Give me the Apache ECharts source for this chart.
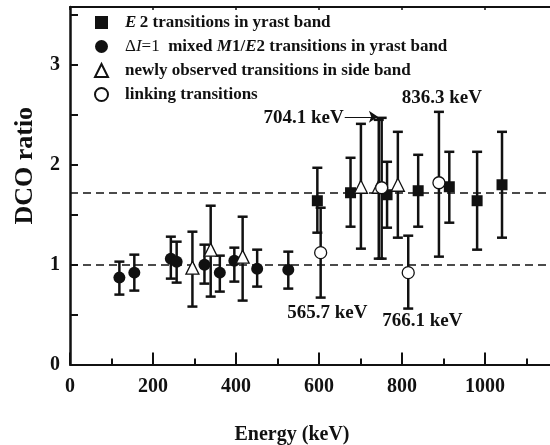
<!DOCTYPE html>
<html>
<head>
<meta charset="utf-8">
<script src="https://cdn.jsdelivr.net/npm/echarts@6/dist/echarts.min.js"></script>
<style>
html, body { margin: 0; padding: 0; background: #fff; }
#chart { width: 550px; height: 445px; }
</style>
</head>
<body>
<div id="chart"></div>
<script>
// E2 transitions in yrast band (filled squares)
var e2Energy = [596, 676, 764, 839, 914, 981, 1041];
var e2Ratio  = [1.64, 1.72, 1.70, 1.74, 1.78, 1.64, 1.80];
var e2Low    = [1.32, 1.38, 1.37, 1.38, 1.42, 1.15, 1.27];
var e2High   = [1.97, 2.07, 2.03, 2.10, 2.13, 2.13, 2.33];

// dI=1 mixed M1/E2 transitions in yrast band (filled circles)
var mixEnergy = [119, 155, 243, 257, 324, 361, 396, 451, 526];
var mixRatio  = [0.87, 0.92, 1.06, 1.03, 1.00, 0.92, 1.04, 0.96, 0.95];
var mixLow    = [0.70, 0.74, 0.86, 0.82, 0.81, 0.73, 0.83, 0.78, 0.76];
var mixHigh   = [1.03, 1.10, 1.28, 1.23, 1.20, 1.09, 1.17, 1.15, 1.13];

// newly observed transitions in side band (open triangles)
var sideEnergy = [295, 339, 416, 701, 744, 790];
var sideRatio  = [0.97, 1.15, 1.08, 1.78, 1.78, 1.80];
var sideLow    = [0.58, 0.68, 0.64, 1.16, 1.06, 1.27];
var sideHigh   = [1.33, 1.59, 1.48, 2.41, 2.45, 2.33];

// linking transitions (open circles)
var linkEnergy = [604, 751, 815, 889];
var linkRatio  = [1.12, 1.77, 0.92, 1.82];
var linkLow    = [0.67, 1.06, 0.56, 1.08];
var linkHigh   = [1.57, 2.47, 1.29, 2.53];

// dashed reference levels
var refLevels = [1.0, 1.72];

// energy labels [x, y, text]
var notes = [
    [563, 2.47, '704.1 keV'],
    [896, 2.67, '836.3 keV'],
    [620, 0.51, '565.7 keV'],
    [849, 0.43, '766.1 keV']
];
// arrow from the 704.1 keV label
var arrowFrom = [662, 2.48];
var arrowTo = [742, 2.48];

var names = [
    'E2 transitions in yrast band',
    'dI=1 mixed M1/E2 transitions in yrast band',
    'newly observed transitions in side band',
    'linking transitions'
];

var FONT = 'Liberation Serif';
var INK = '#111';

function zipPoints(xs, ys) {
    return xs.map(function (x, i) { return [x, ys[i]]; });
}
function zipBars(xs, lo, hi) {
    return xs.map(function (x, i) { return [x, lo[i], hi[i]]; });
}

function errorSeries(xs, lo, hi) {
    return {
        type: 'custom',
        silent: true,
        z: 2,
        data: zipBars(xs, lo, hi),
        renderItem: function (params, api) {
            var x = api.value(0);
            var top = api.coord([x, api.value(2)]);
            var bot = api.coord([x, api.value(1)]);
            var cap = 5;
            var style = { stroke: INK, lineWidth: 2.5 };
            return {
                type: 'group',
                children: [
                    { type: 'line', shape: { x1: top[0], y1: top[1], x2: bot[0], y2: bot[1] }, style: style },
                    { type: 'line', shape: { x1: top[0] - cap, y1: top[1], x2: top[0] + cap, y2: top[1] }, style: style },
                    { type: 'line', shape: { x1: bot[0] - cap, y1: bot[1], x2: bot[0] + cap, y2: bot[1] }, style: style }
                ]
            };
        },
        encode: { x: 0, y: [1, 2] }
    };
}

var chart = echarts.init(document.getElementById('chart'));

var option = {
    backgroundColor: '#fff',
    animation: false,
    grid: { left: 70, top: 7, width: 498, bottom: 80.5, outerBoundsMode: 'none', containLabel: false },
    legend: {
        data: names,
        orient: 'vertical',
        left: 89,
        top: 9,
        itemWidth: 13,
        itemHeight: 13,
        itemGap: 7,
        selectedMode: false,
        textStyle: {
            fontFamily: FONT,
            fontSize: 17,
            fontWeight: 'bold',
            color: INK,
            padding: [0, 0, 0, 12],
            rich: {
                n: { fontFamily: FONT, fontSize: 17, fontWeight: 'bold', color: INK },
                i: { fontFamily: FONT, fontSize: 17, fontWeight: 'bold', fontStyle: 'italic', color: INK },
                r: { fontFamily: FONT, fontSize: 17, fontWeight: 'normal', color: INK },
                ri: { fontFamily: FONT, fontSize: 17, fontWeight: 'normal', fontStyle: 'italic', color: INK }
            }
        },
        formatter: function (name) {
            if (name === names[0]) return '{i|E}{n|\u20092 transitions in yrast band}';
            if (name === names[1]) return '{r|\u0394}{ri|I}{r|=1}{n|  mixed }{i|M}{n|1/}{i|E}{n|2 transitions in yrast band}';
            if (name === names[2]) return '{n|newly observed transitions in side band}';
            return '{n|linking transitions}';
        }
    },
    xAxis: [{
        type: 'value',
        min: 0,
        max: 1200,
        interval: 200,
        axisLine: { lineStyle: { color: INK, width: 2 } },
        axisTick: { inside: true, length: 12, lineStyle: { color: INK, width: 2 } },
        minorTick: { show: true, splitNumber: 2, length: 6, lineStyle: { color: INK, width: 2 } },
        splitLine: { show: false },
        axisLabel: {
            fontFamily: FONT, fontSize: 20, fontWeight: 'bold', color: INK, margin: 12,
            showMaxLabel: false,
            formatter: function (v) { return String(v); }
        },
        name: 'Energy (keV)',
        nameLocation: 'middle',
        nameGap: 60,
        nameTextStyle: { fontFamily: FONT, fontSize: 20, fontWeight: 'bold', color: INK, padding: [0, 54, 0, 0] }
    }, {
        type: 'value',
        position: 'top',
        min: 0,
        max: 1200,
        interval: 200,
        axisLine: { lineStyle: { color: INK, width: 2 } },
        axisTick: { inside: true, length: 3, lineStyle: { color: INK, width: 1.5 } },
        axisLabel: { show: false },
        splitLine: { show: false }
    }],
    yAxis: {
        type: 'value',
        min: 0,
        max: 3.58,
        interval: 0.5,
        axisLine: { lineStyle: { color: INK, width: 2.5 } },
        axisTick: { inside: true, length: 8, lineStyle: { color: INK, width: 2 } },
        splitLine: { show: false },
        axisLabel: {
            fontFamily: FONT, fontSize: 20, fontWeight: 'bold', color: INK, margin: 10,
            showMaxLabel: false,
            formatter: function (v) { return v % 1 === 0 ? String(v) : ''; }
        },
        name: 'DCO ratio',
        nameLocation: 'middle',
        nameGap: 32,
        nameTextStyle: { fontFamily: FONT, fontSize: 26, fontWeight: 'bold', color: INK, padding: [0, 0, 0, 40] }
    },
    series: [
        errorSeries(mixEnergy, mixLow, mixHigh),
        errorSeries(e2Energy, e2Low, e2High),
        errorSeries(sideEnergy, sideLow, sideHigh),
        errorSeries(linkEnergy, linkLow, linkHigh),
        {
            name: names[0],
            type: 'scatter',
            z: 5,
            symbol: 'rect',
            symbolSize: 11,
            itemStyle: { color: INK, opacity: 1 },
            data: zipPoints(e2Energy, e2Ratio)
        },
        {
            name: names[1],
            type: 'scatter',
            z: 5,
            symbol: 'circle',
            symbolSize: 12,
            itemStyle: { color: INK, opacity: 1 },
            data: zipPoints(mixEnergy, mixRatio)
        },
        {
            name: names[2],
            type: 'scatter',
            z: 6,
            symbol: 'triangle',
            symbolSize: 13,
            itemStyle: { color: '#fff', borderColor: INK, borderWidth: 1.3, opacity: 1 },
            data: zipPoints(sideEnergy, sideRatio)
        },
        {
            name: names[3],
            type: 'scatter',
            z: 7,
            symbol: 'circle',
            symbolSize: 12,
            itemStyle: { color: '#fff', borderColor: INK, borderWidth: 1.3, opacity: 1 },
            data: zipPoints(linkEnergy, linkRatio)
        },
        {
            type: 'scatter',
            silent: true,
            z: 8,
            symbolSize: 0,
            itemStyle: { opacity: 1 },
            data: notes,
            label: {
                show: true,
                position: 'inside',
                fontFamily: FONT,
                fontSize: 19,
                fontWeight: 'bold',
                color: INK,
                opacity: 1,
                formatter: function (p) { return p.data[2]; }
            },
            markLine: {
                silent: true,
                symbol: ['none', 'arrow'],
                symbolSize: 9,
                label: { show: false },
                lineStyle: { color: INK, width: 1.2, type: 'solid', opacity: 1 },
                data: [[{ coord: arrowFrom }, { coord: arrowTo }]]
            }
        },
        {
            type: 'line',
            silent: true,
            data: [],
            markLine: {
                silent: true,
                symbol: 'none',
                label: { show: false },
                lineStyle: { color: INK, width: 1.5, type: [8, 5], opacity: 1 },
                data: refLevels.map(function (v) { return { yAxis: v }; })
            }
        }
    ]
};

chart.setOption(option);
</script>
</body>
</html>
